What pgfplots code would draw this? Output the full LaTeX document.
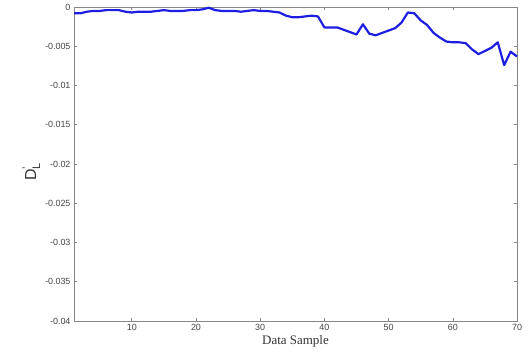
\documentclass[border=0pt]{standalone}
\usepackage{fontspec}
\setmainfont{Liberation Sans}
\newfontfamily\labelfont{Liberation Serif}
\usepackage{pgfplots}
\pgfplotsset{compat=1.18}
\definecolor{axgray}{RGB}{135,135,135}
\definecolor{txtgray}{RGB}{70,70,70}
\definecolor{lineblue}{RGB}{30,30,225}
\begin{document}
\begin{tikzpicture}
\begin{axis}[
  name=ax,
  scale only axis,
  width=443bp, height=314bp,
  xmin=1, xmax=70, ymin=-0.04, ymax=0,
  scaled y ticks=false, scaled x ticks=false,
  xtick={10,20,30,40,50,60,70},
  ytick={-0.04,-0.035,-0.03,-0.025,-0.02,-0.015,-0.01,-0.005,0},
  yticklabels={-0.04,-0.035,-0.03,-0.025,-0.02,-0.015,-0.01,-0.005,0},
  xticklabels={10,20,30,40,50,60,70},
  tick align=inside,
  major tick length=3bp,
  axis line style={axgray, line width=1pt},
  every tick/.style={axgray, line width=0.6pt},
  tick label style={font=\fontsize{9}{10}\selectfont, text=txtgray},
  xlabel={\labelfont\fontsize{13}{14}\selectfont Data Sample},
  xlabel style={yshift=2bp, text=black!80},
  ylabel={\fontsize{16}{17}\selectfont D\rlap{\raisebox{0.7ex}{\fontsize{11}{11}\selectfont '}}\raisebox{-0.5ex}{\fontsize{11}{11}\selectfont L}},
  ylabel style={yshift=-2bp, xshift=-8bp, text=black!80},
  clip=false,
]
\addplot[lineblue, line width=2.2pt, line join=round] coordinates {
(1,-0.0008) (2,-0.0008) (3,-0.0006) (4,-0.0005) (5,-0.0005) (6,-0.0004) (7,-0.0004) (8,-0.0004) (9,-0.0006) (10,-0.0007)
(11,-0.0006) (12,-0.0006) (13,-0.0006) (14,-0.0005) (15,-0.0004) (16,-0.0005) (17,-0.0005) (18,-0.0005) (19,-0.0004) (20,-0.0004)
(21,-0.0003) (22,-0.0001) (23,-0.0004) (24,-0.0005) (25,-0.0005) (26,-0.0005) (27,-0.0006) (28,-0.0005) (29,-0.0004) (30,-0.0005)
(31,-0.0005) (32,-0.0006) (33,-0.0007) (34,-0.0011) (35,-0.0013) (36,-0.0013) (37,-0.0012) (38,-0.0011) (39,-0.0012) (40,-0.0026)
(41,-0.0026) (42,-0.0026) (43,-0.0029) (44,-0.0032) (45,-0.0035) (46,-0.0022) (47,-0.0034) (48,-0.0036) (49,-0.0033) (50,-0.0030)
(51,-0.0027) (52,-0.0020) (53,-0.0007) (54,-0.0008) (55,-0.0017) (56,-0.0023) (57,-0.0033) (58,-0.0039) (59,-0.0044) (60,-0.0045)
(61,-0.0045) (62,-0.0046) (63,-0.0054) (64,-0.0060) (65,-0.0056) (66,-0.0052) (67,-0.0045) (68,-0.0074) (69,-0.0057) (70,-0.0063)
};
\end{axis}
\path (ax.south west) ++(-74bp,-37bp) coordinate (bl);
\path (ax.north east) ++(14bp,7bp) coordinate (tr);
\path (bl) rectangle (tr);
\end{tikzpicture}
\end{document}
